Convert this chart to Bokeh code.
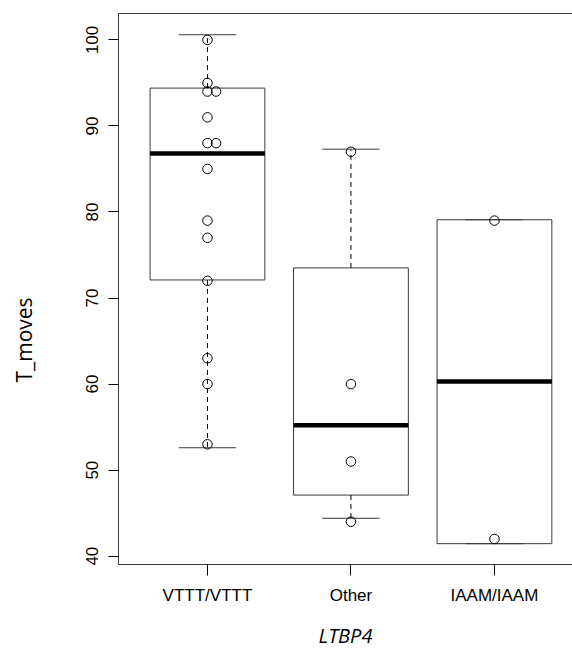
from bokeh.plotting import figure
from bokeh.models import Range1d, FixedTicker, LinearAxis, Title
from bokeh.embed import file_html
from bokeh.resources import INLINE

# ---- data ----
groups = ["VTTT/VTTT", "Other", "IAAM/IAAM"]
whisker_low = [52.6, 44.4, 41.45]
q1 = [72.1, 47.1, 41.45]
median = [86.8, 55.2, 60.3]
q3 = [94.4, 73.5, 79.1]
whisker_high = [100.6, 87.3, 79.1]

# individual observations (group index, value, horizontal jitter)
pt_group = [1, 1, 1, 1, 1, 1, 1, 1, 1, 1, 1, 1, 1, 1,
            2, 2, 2, 2,
            3, 3]
pt_value = [100, 95, 94, 94, 91, 88, 88, 85, 79, 77, 72, 63, 60, 53,
            87, 60, 51, 44,
            79, 42]
pt_jitter = [0, 0, 0, 0.06, 0, 0, 0.06, 0, 0, 0, 0, 0, 0, 0,
             0, 0, 0, 0,
             0, 0]
y_ticks = [40, 50, 60, 70, 80, 90, 100]

# ---- figure ----
FRAME = "#3a3a3a"
p = figure(width=572, height=648,
           x_range=Range1d(0.38, 3.544), y_range=Range1d(39.03, 103.07),
           output_backend="svg", toolbar_location=None,
           min_border_left=118, min_border_right=0,
           min_border_top=13, min_border_bottom=84,
           x_axis_location=None, y_axis_location=None)
p.grid.visible = False
p.outline_line_color = None
p.background_fill_color = "white"
p.border_fill_color = "white"

xpos = [i + 1 for i in range(len(groups))]
half = 0.4
staple = 0.2

# boxes
p.quad(left=[x - half for x in xpos], right=[x + half for x in xpos],
       bottom=q1, top=q3, fill_color=None, line_color=FRAME, line_width=1)
# whiskers
p.segment(x0=xpos, y0=q3, x1=xpos, y1=whisker_high, line_color="black",
          line_width=1, line_dash="5 4")
p.segment(x0=xpos, y0=q1, x1=xpos, y1=whisker_low, line_color="black",
          line_width=1, line_dash="5 4")
# staples
p.segment(x0=[x - staple for x in xpos], y0=whisker_high,
          x1=[x + staple for x in xpos], y1=whisker_high,
          line_color=FRAME, line_width=1)
p.segment(x0=[x - staple for x in xpos], y0=whisker_low,
          x1=[x + staple for x in xpos], y1=whisker_low,
          line_color=FRAME, line_width=1)
# medians
p.segment(x0=[x - half for x in xpos], y0=median,
          x1=[x + half for x in xpos], y1=median,
          line_color="black", line_width=4.5)
# points
p.scatter(x=[g + j for g, j in zip(pt_group, pt_jitter)], y=pt_value,
          marker="circle", size=9.5, fill_color=None,
          line_color="black", line_width=1)


def spacer(px, tick):
    # an invisible axis whose only job is to take up px pixels of border
    a = LinearAxis(ticker=FixedTicker(ticks=[tick]))
    a.major_label_overrides = {tick: ""}
    a.major_label_text_font_size = "0px"
    a.major_label_standoff = 0
    a.major_tick_out = px
    a.major_tick_in = 0
    a.minor_tick_out = 0
    a.minor_tick_in = 0
    a.major_tick_line_color = None
    a.axis_line_color = None
    return a


# axes
yax = LinearAxis(ticker=FixedTicker(ticks=y_ticks))
yax.major_label_orientation = "vertical"
yax.major_tick_out = 10
yax.major_tick_in = 0
yax.minor_tick_out = 0
yax.minor_tick_in = 0
yax.major_label_standoff = 10
yax.major_label_text_font = "Liberation Sans"
yax.major_label_text_font_size = "17px"
yax.major_label_text_color = "black"
yax.axis_line_color = FRAME
yax.major_tick_line_color = "black"
p.add_layout(yax, "left")
p.add_layout(spacer(41, 70), "left")

xax = LinearAxis(ticker=FixedTicker(ticks=xpos))
xax.major_label_overrides = {x: g for x, g in zip(xpos, groups)}
xax.major_tick_out = 11
xax.major_tick_in = 0
xax.minor_tick_out = 0
xax.minor_tick_in = 0
xax.major_label_standoff = 10
xax.major_label_text_font = "Liberation Sans"
xax.major_label_text_font_size = "17px"
xax.major_label_text_color = "black"
xax.axis_line_color = FRAME
xax.major_tick_line_color = "black"
p.add_layout(xax, "below")
p.add_layout(spacer(12, 2), "below")

top = LinearAxis(ticker=FixedTicker(ticks=[]))
top.major_label_text_font_size = "0px"
top.major_tick_out = 0
top.minor_tick_out = 0
top.axis_line_color = FRAME
p.add_layout(top, "above")

# axis titles
p.add_layout(Title(text="T_moves", align="left", offset=182, standoff=10,
                   text_font="Open Sans", text_font_size="21px",
                   text_font_style="normal", text_color="black"), "left")
p.add_layout(Title(text="LTBP4", align="center", standoff=0,
                   text_font="Open Sans", text_font_style="italic",
                   text_font_size="20px", text_color="black"), "below")

open("out.html", "w").write(file_html(p, INLINE))
